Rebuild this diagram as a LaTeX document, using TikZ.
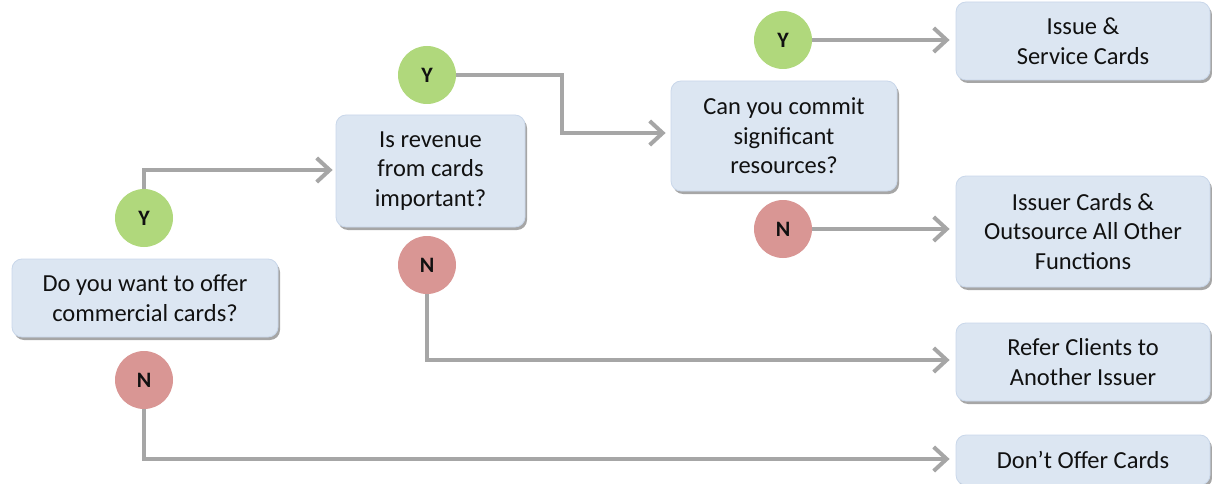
\documentclass[tikz,border=0pt]{standalone}
\usepackage{fontspec}
\setmainfont{Carlito}
\usetikzlibrary{arrows.meta,shadows,calc}
\definecolor{boxfill}{HTML}{DCE6F2}
\definecolor{boxline}{HTML}{C9D7EA}
\definecolor{yesfill}{HTML}{B0D87C}
\definecolor{nofill}{HTML}{D99694}
\definecolor{conn}{HTML}{A6A6A6}
\definecolor{txt}{HTML}{111111}
\tikzset{
  qbox/.style={draw=boxline, line width=0.8pt, fill=boxfill, rounded corners=10pt,
    drop shadow={shadow xshift=2pt, shadow yshift=-3pt, opacity=0.35, fill=black},
    align=center, text=txt, inner sep=0pt,
    font=\fontsize{24.5}{29.5}\selectfont},
  yes/.style={circle, fill=yesfill, minimum size=58pt, inner sep=0pt,
    font=\fontsize{22}{23}\selectfont\bfseries, text=txt},
  no/.style={circle, fill=nofill, minimum size=58pt, inner sep=0pt,
    font=\fontsize{22}{23}\selectfont\bfseries, text=txt},
  conn/.style={draw=conn, line width=4pt, line join=miter,
    -{Straight Barb[length=13pt, width=24pt, line width=4pt]}}
}
\begin{document}
\begin{tikzpicture}[x=1pt, y=-1pt]
\useasboundingbox (0,0) rectangle (1212,484);
% question boxes
\node[qbox, minimum width=266pt, minimum height=78pt] (q1) at (145,298) {Do you want to offer\\commercial cards?};
\node[qbox, minimum width=189pt, minimum height=112pt] (q2) at (430.5,171) {Is revenue\\from cards\\important?};
\node[qbox, minimum width=226pt, minimum height=110pt] (q3) at (784,136) {Can you commit\\significant\\resources?};
% result boxes
\node[qbox, minimum width=254pt, minimum height=78pt] (r1) at (1083,41) {Issue \&\\Service Cards};
\node[qbox, minimum width=254pt, minimum height=111pt] (r2) at (1083,231.5) {Issuer Cards \&\\Outsource All Other\\Functions};
\node[qbox, minimum width=254pt, minimum height=78pt] (r3) at (1083,362) {Refer Clients to\\Another Issuer};
\node[qbox, minimum width=254pt, minimum height=50pt] (r4) at (1083,460) {Don’t Offer Cards};
% Y/N circles
\node[yes] (y1) at (144,218) {Y};
\node[no]  (n1) at (144,380) {N};
\node[yes] (y2) at (427,75) {Y};
\node[no]  (n2) at (427,265) {N};
\node[yes] (y3) at (783,40) {Y};
\node[no]  (n3) at (783,229) {N};
% bend points
\coordinate (b1) at (144,170);
\coordinate (b2) at (562,75);
\coordinate (b3) at (562,133);
\coordinate (b4) at (427,360);
\coordinate (b5) at (144,459);
% connectors
\draw[conn, shorten >=3pt] (y1.north) -- (b1) -- (b1 -| q2.west);
\draw[conn, shorten >=5pt] (y2.east) -- (b2) -- (b3) -- (b3 -| q3.west);
\draw[conn, shorten >=6pt] (y3.east) -- (y3.east -| r1.west);
\draw[conn, shorten >=6pt] (n3.east) -- (n3.east -| r2.west);
\draw[conn, shorten >=6pt] (n2.south) -- (b4) -- (b4 -| r3.west);
\draw[conn, shorten >=6pt] (n1.south) -- (b5) -- (b5 -| r4.west);
\end{tikzpicture}
\end{document}
